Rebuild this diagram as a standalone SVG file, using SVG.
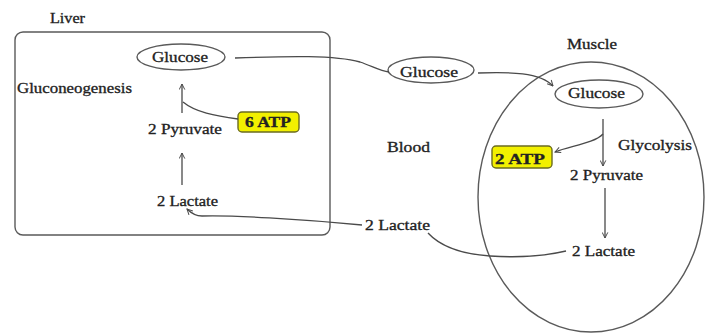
<svg xmlns="http://www.w3.org/2000/svg" width="706" height="334" viewBox="0 0 706 334">
<style>
text{font-family:"Liberation Serif","Times New Roman",serif;font-size:14px;fill:#222;stroke:#222;stroke-width:0.3}
.b{font-weight:bold}
.ln{fill:none;stroke:#4a4a4a;stroke-width:1.3}
.sh{fill:none;stroke:#5a5a5a;stroke-width:1.4}
.atp{fill:#f2f000;stroke:#6b6b20;stroke-width:1.4}
</style>
<defs>
<marker id="ah" viewBox="0 0 10 10" refX="9" refY="5" markerWidth="7" markerHeight="7" orient="auto" markerUnits="userSpaceOnUse">
<path d="M1,1 L9,5 L1,9" fill="none" stroke="#4a4a4a" stroke-width="1.4"/>
</marker>
</defs>
<rect width="706" height="334" fill="#fff"/>
<g id="liver">
<rect class="sh" x="15" y="32" width="315" height="203" rx="8"/>
<text x="50" y="23" textLength="35" lengthAdjust="spacingAndGlyphs">Liver</text>
<text x="17" y="93" textLength="115" lengthAdjust="spacingAndGlyphs">Gluconeogenesis</text>
</g>
<g id="liver-glucose">
<ellipse class="sh" cx="181" cy="57" rx="44" ry="13"/>
<text x="152" y="62" textLength="56" lengthAdjust="spacingAndGlyphs">Glucose</text>
</g>
<g id="liver-pyruvate"><text x="148" y="134" textLength="74" lengthAdjust="spacingAndGlyphs">2 Pyruvate</text></g>
<g id="liver-lactate"><text x="157" y="206" textLength="61" lengthAdjust="spacingAndGlyphs">2 Lactate</text></g>
<g id="atp6">
<rect class="atp" x="238" y="112" width="61" height="20" rx="4"/>
<text class="b" x="245" y="127" textLength="46" lengthAdjust="spacingAndGlyphs">6 ATP</text>
</g>
<g id="blood">
<text x="387" y="152" textLength="43" lengthAdjust="spacingAndGlyphs">Blood</text>
</g>
<g id="blood-glucose">
<ellipse class="sh" cx="431" cy="70" rx="43" ry="13"/>
<text x="400" y="77" textLength="58" lengthAdjust="spacingAndGlyphs">Glucose</text>
</g>
<g id="blood-lactate"><text x="365" y="230" textLength="65" lengthAdjust="spacingAndGlyphs">2 Lactate</text></g>
<g id="muscle">
<ellipse class="sh" cx="591" cy="197" rx="113" ry="135"/>
<text x="567" y="49" textLength="50" lengthAdjust="spacingAndGlyphs">Muscle</text>
<text x="618" y="150" textLength="74" lengthAdjust="spacingAndGlyphs">Glycolysis</text>
</g>
<g id="muscle-glucose">
<ellipse class="sh" cx="599" cy="94" rx="44" ry="14"/>
<text x="568" y="98" textLength="57" lengthAdjust="spacingAndGlyphs">Glucose</text>
</g>
<g id="atp2">
<rect class="atp" x="492" y="146" width="60" height="22" rx="4"/>
<text class="b" x="495" y="164" textLength="50" lengthAdjust="spacingAndGlyphs">2 ATP</text>
</g>
<g id="muscle-pyruvate"><text x="570" y="180" textLength="73" lengthAdjust="spacingAndGlyphs">2 Pyruvate</text></g>
<g id="muscle-lactate"><text x="572" y="256" textLength="63" lengthAdjust="spacingAndGlyphs">2 Lactate</text></g>
<g id="connectors">
<path class="ln" d="M235,58 C290,56 335,55 360,62 C372,66 380,71 389,72"/>
<path class="ln" d="M478,73 C510,72 540,72 553,86" marker-end="url(#ah)"/>
<path class="ln" d="M182,113 L182,84" marker-end="url(#ah)"/>
<path class="ln" d="M238,119 C215,116 195,112 183,102"/>
<path class="ln" d="M182,185 L182,153" marker-end="url(#ah)"/>
<path class="ln" d="M362,225 C300,219 230,215 202,216 C195,216 191,213 187,209" marker-end="url(#ah)"/>
<path class="ln" d="M603,119 L603,166" marker-end="url(#ah)"/>
<path class="ln" d="M603,134 C595,143 570,146 555,152" marker-end="url(#ah)"/>
<path class="ln" d="M605,188 L605,238" marker-end="url(#ah)"/>
<path class="ln" d="M566,251 C545,256 520,258 490,256 C460,254 440,246 428,233"/>
</g>
</svg>
